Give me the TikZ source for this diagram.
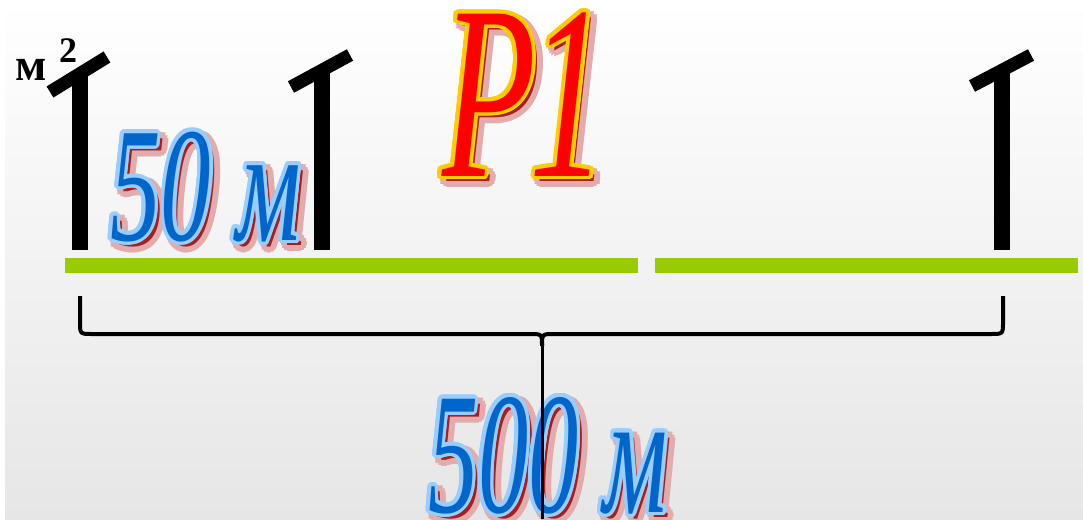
\documentclass[tikz,border=0pt]{standalone}
\usepackage{fontspec}
\setmainfont{Liberation Serif}
\newfontfamily\cors[FakeStretch=0.62]{Liberation Serif Italic}
\newfontfamily\corsn[FakeStretch=0.58]{Liberation Serif Italic}
\usetikzlibrary{calc}
\definecolor{grn}{HTML}{99CC00}
\definecolor{lblue}{HTML}{99CCFF}
\definecolor{dblue}{HTML}{0066CC}
\definecolor{gold}{HTML}{FFCC00}
\definecolor{redfill}{HTML}{FF0000}
\definecolor{shadowA}{HTML}{E2ACAC}
\definecolor{shadowB}{HTML}{A81E1E}
\definecolor{bgbottom}{HTML}{E6E6E6}
\tikzset{
  txt/.style={anchor=base west, inner sep=0pt, outer sep=0pt},
  post/.style={line width=16pt},
  bar/.style={line width=13pt},
  ground/.style={grn, line width=15pt},
  bracel/.style={line width=4pt, line join=round},
}
\newcommand{\fancytext}[9]{%
  \foreach \a in {0,30,...,330}
    \node[txt,font=#4,text=shadowA] at ($(#2,#3)+(#9,#9)+(\a:6)$) {#5};
  \node[txt,font=#4,text=shadowB] at ($(#2,#3)+(#9,#9)$) {#5};
  \foreach \a in {0,20,...,340}
    \node[txt,font=#4,text=#7] at ($(#2,#3)+(\a:#8)$) {#5};
  \node[txt,font=#4,text=#6] (#1) at (#2,#3) {#5};
}
\begin{document}
\begin{tikzpicture}[x=1pt,y=-1pt]
\useasboundingbox (0,0) rectangle (1083,519);
\fill[white] (0,0) rectangle (1083,519);
\shade[top color=white, bottom color=bgbottom] (5,0) rectangle (1083,519);
% ground
\draw[ground] (65,265) -- (638,265);
\draw[ground] (655,265) -- (1078,265);
% texts
\fancytext{fifty}{110}{240}{\cors\fontsize{163}{163}\selectfont}{50 м}{dblue}{lblue}{3.5}{5}
\fancytext{fivehundred}{428}{512}{\corsn\fontsize{173}{173}\selectfont}{500 м}{dblue}{lblue}{3.5}{5}
\fancytext{pone}{442}{176}{\cors\fontsize{248}{248}\selectfont}{Р\kern-6pt1}{redfill}{gold}{4}{5}
% posts
\draw[post] (80,250) -- (80,76);
\draw[bar] (50,92) -- (107,57);
\draw[post] (322,250) -- (322,72);
\draw[bar] (291,87) -- (350,55);
\draw[post] (1002,250) -- (1002,72);
\draw[bar] (972,86) -- (1031,55);
% m^2
\node[txt,font=\bfseries\fontsize{46}{46}\selectfont] (m) at (15,80) {м};
\node[txt,font=\bfseries\fontsize{36}{36}\selectfont] (sq) at (59,63) {2};
% brace
\coordinate (bl) at (80,296);
\coordinate (br) at (1003,296);
\coordinate (tip) at (542,346);
\coordinate (bot) at (542,519);
\draw[bracel] (bl) -- (80,322) .. controls (80,334) .. (92,334) -- (530,334) .. controls (542,334) .. (tip);
\draw[bracel] (br) -- (1003,322) .. controls (1003,334) .. (991,334) -- (554,334) .. controls (542,334) .. (tip);
\draw[line width=3pt] (tip) -- (bot);
\end{tikzpicture}
\end{document}
